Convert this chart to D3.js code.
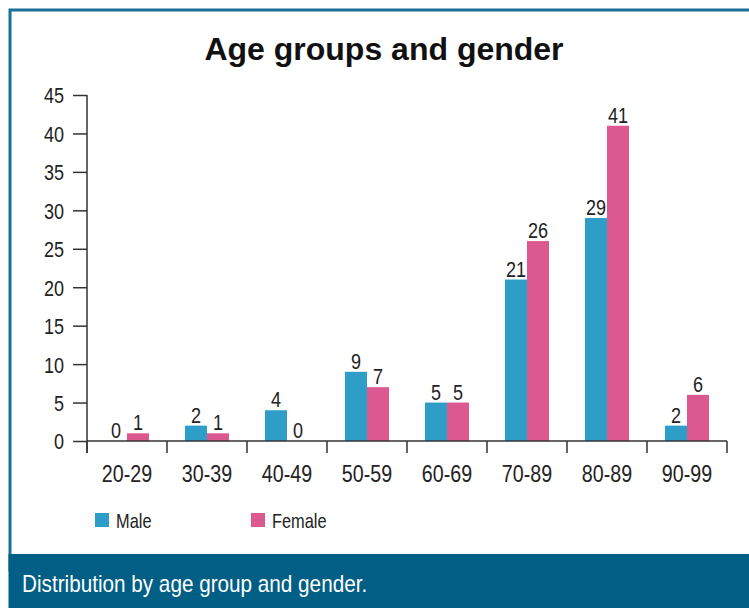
<!DOCTYPE html>
<html>
<head>
<meta charset="utf-8">
<script src="https://cdn.jsdelivr.net/npm/d3@7"></script>
<style>
  html, body { margin: 0; padding: 0; background: #fff; }
  svg { display: block; }
</style>
</head>
<body>
<svg id="chart" width="749" height="608"></svg>
<script>
// Age group categories and counts by gender
const ageGroups = ["20-29", "30-39", "40-49", "50-59", "60-69", "70-89", "80-89", "90-99"];
const maleCounts = [0, 2, 4, 9, 5, 21, 29, 2];
const femaleCounts = [1, 1, 0, 7, 5, 26, 41, 6];
const seriesNames = ["Male", "Female"];
const yTicks = [0, 5, 10, 15, 20, 25, 30, 35, 40, 45];

const colors = { Male: "#2e9ec9", Female: "#dc5891" };
const textColor = "#222";
const axisColor = "#333";
const baseFont = "'Liberation Sans', Arial, Helvetica, sans-serif";
const condense = 0.82; // horizontal squeeze for a condensed look

const svg = d3.select("#chart");

// Condensed text: placed via transform, squeezed horizontally
function narrowText(parent, x, y, str, size, anchor, fill, squeeze) {
  return parent.append("text")
    .attr("transform", `translate(${x},${y}) scale(${squeeze || condense},1)`)
    .attr("font-family", baseFont)
    .attr("font-size", size)
    .attr("text-anchor", anchor || "start")
    .attr("fill", fill || textColor)
    .text(str);
}

// Panel frame and caption band
svg.append("rect")
  .attr("x", 10).attr("y", 10).attr("width", 760).attr("height", 560)
  .attr("fill", "#fff").attr("stroke", "#1b6f97").attr("stroke-width", 3);
svg.append("rect")
  .attr("x", 8.5).attr("y", 554).attr("width", 745).attr("height", 60)
  .attr("fill", "#015e85");
narrowText(svg, 22, 592, "Distribution by age group and gender.", 23, "start", "#fff", 0.9);

// Title
svg.append("text")
  .attr("x", 384).attr("y", 60)
  .attr("text-anchor", "middle")
  .attr("font-family", baseFont)
  .attr("font-weight", "bold").attr("font-size", 32)
  .attr("fill", "#111")
  .text("Age groups and gender");

// Scales
const x0 = d3.scaleBand().domain(ageGroups).range([87, 727]).paddingInner(0).paddingOuter(0);
const x1 = d3.scaleBand().domain(seriesNames).range([0, 44]);
const y = d3.scaleLinear().domain([0, 45]).range([441, 95]);

const rows = ageGroups.map((g, i) => ({ group: g, Male: maleCounts[i], Female: femaleCounts[i] }));

// Bars
const groups = svg.append("g").selectAll("g")
  .data(rows).join("g")
  .attr("transform", d => `translate(${x0(d.group) + x0.bandwidth() / 2 - 22},0)`);

groups.selectAll("rect")
  .data(d => seriesNames.map(k => ({ key: k, value: d[k] })))
  .join("rect")
  .attr("x", d => x1(d.key))
  .attr("width", x1.bandwidth())
  .attr("y", d => y(d.value))
  .attr("height", d => y(0) - y(d.value))
  .attr("fill", d => colors[d.key]);

// Value labels
groups.each(function (d) {
  const g = d3.select(this);
  seriesNames.forEach(k => {
    narrowText(g, x1(k) + x1.bandwidth() / 2, y(d[k]) - 3, d[k], 22, "middle");
  });
});

// Y axis
const yAxis = svg.append("g")
  .attr("transform", "translate(87,0)")
  .call(d3.axisLeft(y).tickValues(yTicks).tickSize(14).tickPadding(9));
yAxis.select(".domain").attr("stroke", axisColor).attr("stroke-width", 1.5)
  .attr("d", "M0,95V453");
yAxis.selectAll(".tick line").attr("stroke", axisColor).attr("stroke-width", 1.5);
yAxis.selectAll(".tick text")
  .attr("font-family", baseFont)
  .attr("font-size", 22).attr("fill", textColor)
  .attr("x", -23 / condense)
  .attr("dy", "0.36em")
  .attr("transform", `scale(${condense},1)`);

// X axis with ticks at band boundaries
const xAxis = svg.append("g").attr("transform", "translate(0,441)");
xAxis.append("path")
  .attr("d", "M87,0H727")
  .attr("stroke", axisColor).attr("stroke-width", 1.5);
const boundaries = ageGroups.map(g => x0(g)).concat([x0.range()[1]]);
xAxis.selectAll("line.bt")
  .data(boundaries).join("line")
  .attr("class", "bt")
  .attr("x1", d => d).attr("x2", d => d)
  .attr("y1", 0).attr("y2", 12)
  .attr("stroke", axisColor).attr("stroke-width", 1.5);
ageGroups.forEach(g => {
  narrowText(xAxis, x0(g) + x0.bandwidth() / 2, 41, g, 24, "middle");
});

// Legend
const legendPos = [95, 251];
const legend = svg.append("g").selectAll("g")
  .data(seriesNames).join("g")
  .attr("transform", (d, i) => `translate(${legendPos[i]},513)`);
legend.append("rect")
  .attr("width", 14).attr("height", 14)
  .attr("fill", d => colors[d]);
legend.each(function (d) {
  narrowText(d3.select(this), 21, 15, d, 20, "start");
});
</script>
</body>
</html>
